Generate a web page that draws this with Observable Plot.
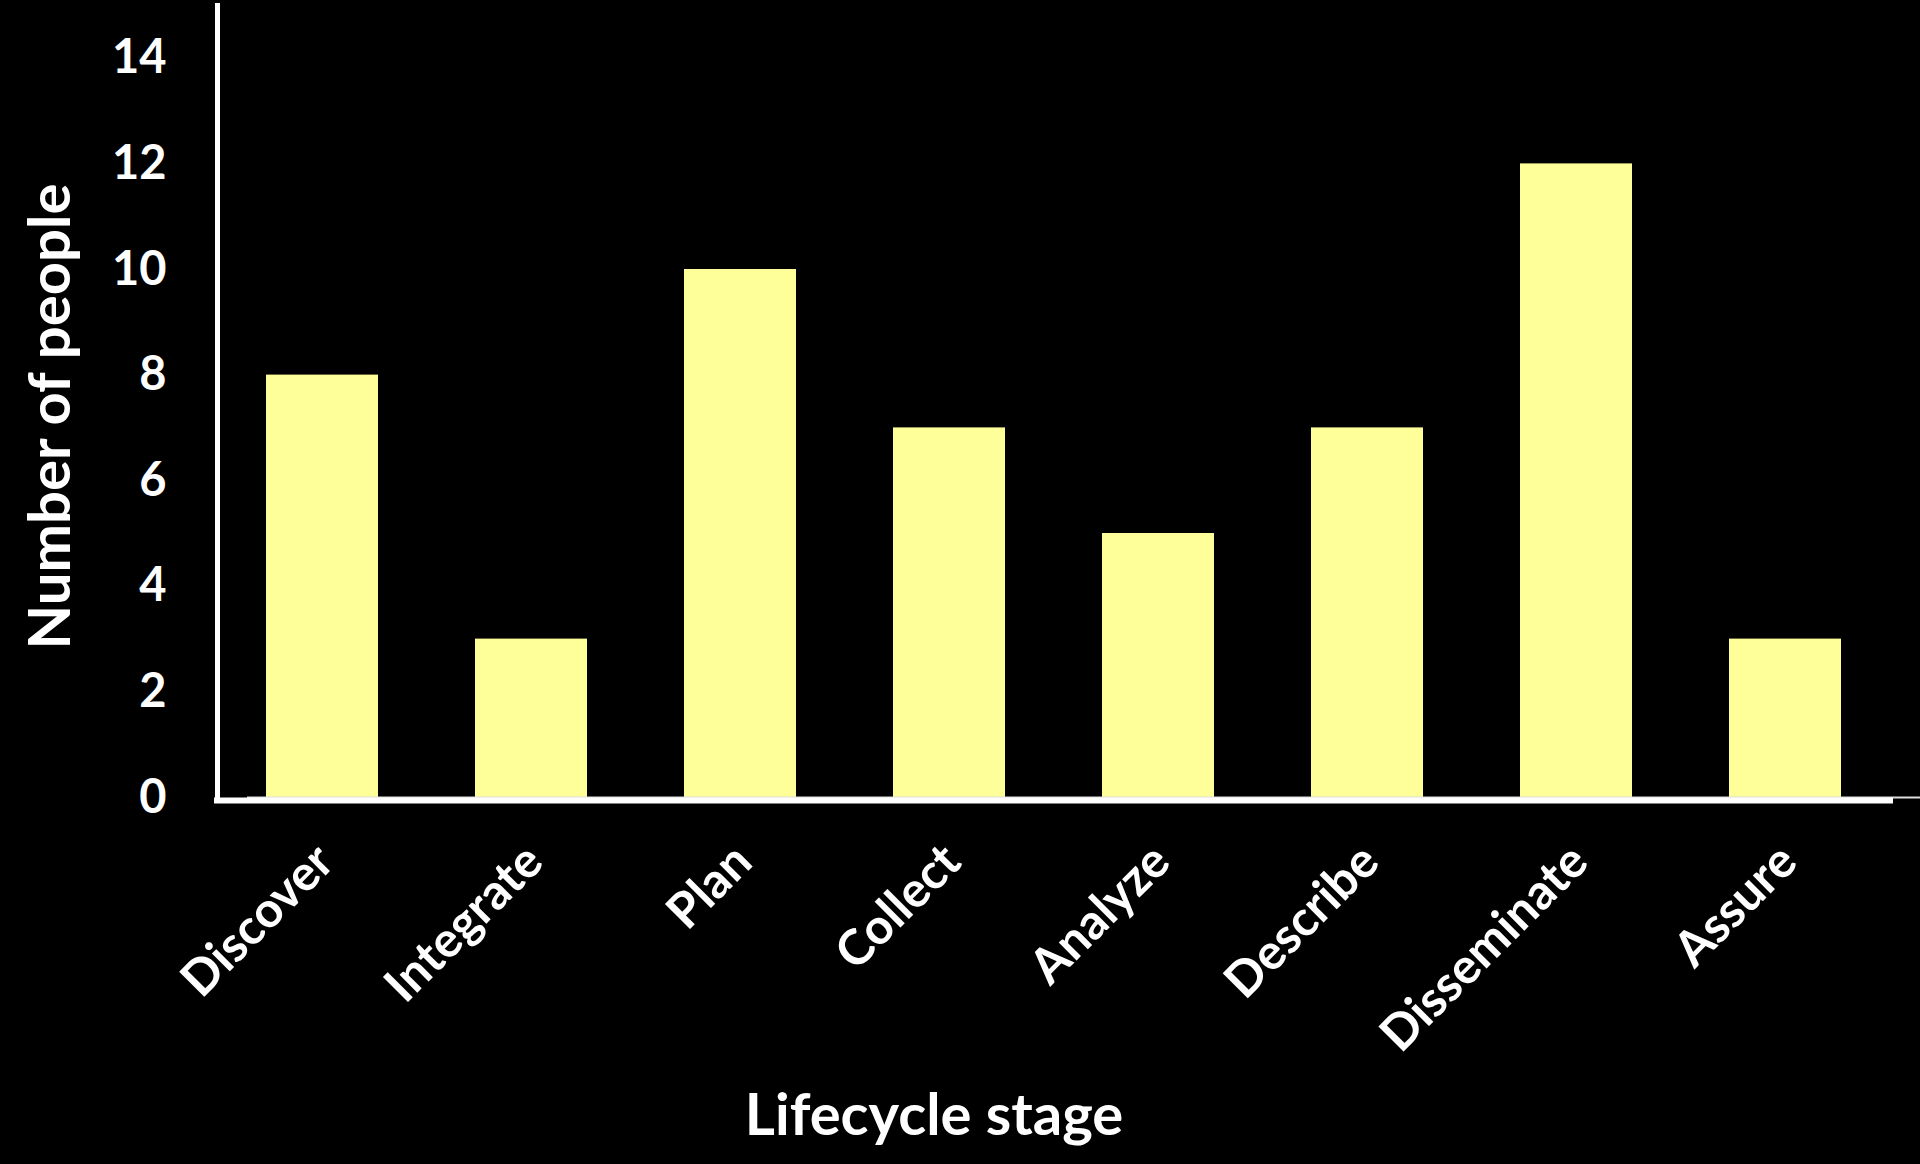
<!DOCTYPE html>
<html><head><meta charset="utf-8">
<script src="https://cdn.jsdelivr.net/npm/d3@7"></script>
<script src="https://cdn.jsdelivr.net/npm/@observablehq/plot@0.6"></script>
<style>html,body{margin:0;padding:0;background:#000;overflow:hidden}</style>
</head><body><div id="chart"></div>
<script>
const stages = ["Discover","Integrate","Plan","Collect","Analyze","Describe","Disseminate","Assure"];
const counts = [8,3,10,7,5,7,12,3];
const yTicks = [0,2,4,6,8,10,12,14];
const xTitle = "Lifecycle stage";
const yTitle = "Number of people";
const data = stages.map((s,i)=>({stage:s, count:counts[i]}));
const font = "Lato, 'Open Sans', sans-serif";
const chart = Plot.plot({
  width:1920, height:1164,
  marginLeft:217, marginRight:30, marginTop:5, marginBottom:367,
  style:{background:"#000", color:"#fff", fontFamily:font, fontWeight:"bold", overflow:"visible"},
  x:{domain:stages, paddingInner:0.465, paddingOuter:0.2325, axis:null},
  y:{domain:[0,15], axis:null},
  marks:[
    Plot.barY(data,{x:"stage", y:"count", fill:"#ffff99"}),
    Plot.axisY({ticks:yTicks, tickSize:0, tickPadding:51, fontSize:47, fontWeight:"bold", label:null, fill:"#fff"}),
    Plot.text(data,{x:"stage", text:"stage", frameAnchor:"bottom", rotate:-45, textAnchor:"end", dx:14, dy:67, fontSize:49, fontWeight:"bold", fill:"#fff"}),
    Plot.ruleY([0],{stroke:"#ddd", strokeWidth:2, dx:30}),
    Plot.frame({anchor:"left", stroke:"#fff", strokeWidth:5}),
    Plot.ruleY([0],{stroke:"#fff", strokeWidth:6, dy:3, strokeLinecap:"square"}),
    Plot.text([xTitle],{frameAnchor:"bottom", textAnchor:"middle", dx:-120, dy:337, fontSize:58, fontWeight:"bold", fill:"#fff"}),
    Plot.text([yTitle],{frameAnchor:"left", textAnchor:"middle", rotate:-90, dx:-166, dy:15, fontSize:58, fontWeight:"bold", fill:"#fff"})
  ]
});
document.getElementById("chart").appendChild(chart);
</script>
</body></html>
